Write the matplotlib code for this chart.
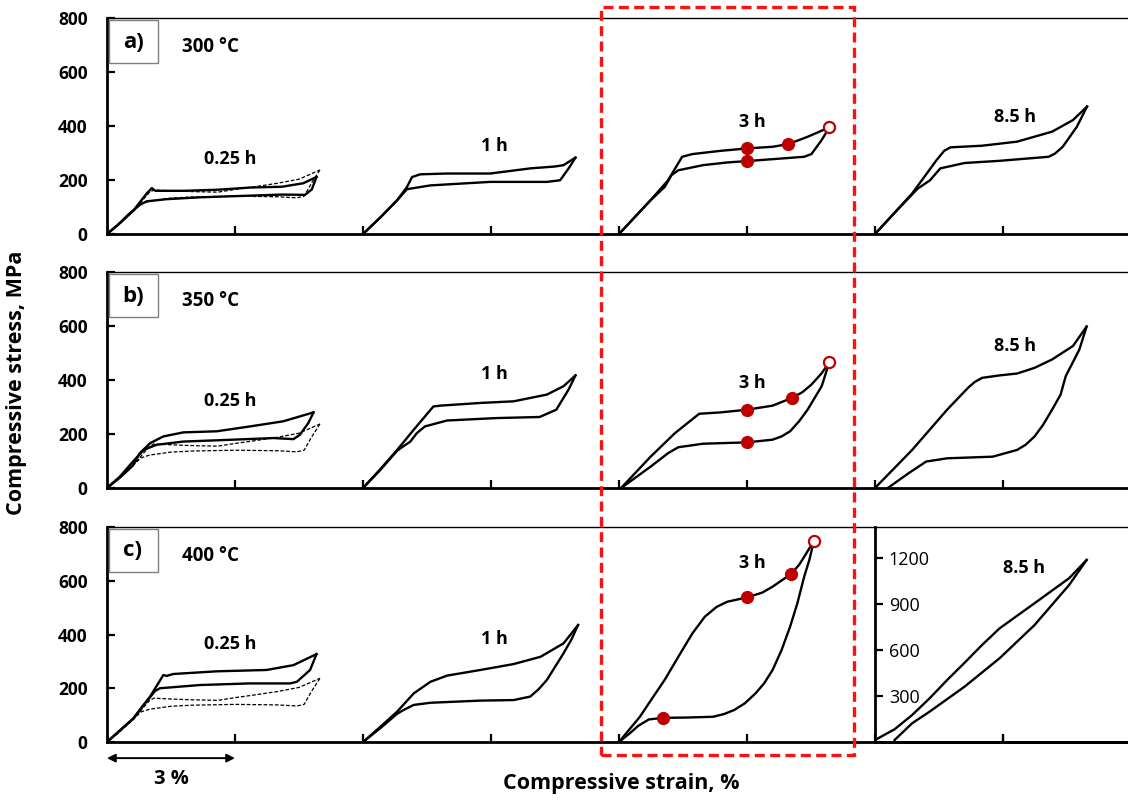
import matplotlib
matplotlib.use('Agg')
import matplotlib.pyplot as plt
from matplotlib.patches import Rectangle

plt.rcParams['font.family'] = ['Open Sans', 'DejaVu Sans']
plt.rcParams['font.weight'] = 'bold'

# ageing times and the strain (%) where each loop starts on the shared axis
durations = ['0.25 h', '1 h', '3 h', '8.5 h']
origins = [0, 6, 12, 18]
temps = ['300 °C', '350 °C', '400 °C']
panels = ['a)', 'b)', 'c)']
yticks = [0, 200, 400, 600, 800]
inset_yticks = [300, 600, 900, 1200]

# dashed reference loop (0.25 h) repeated in every row, (strain %, stress MPa)
ref_load = [(0, 0), (0.3, 38), (0.62, 84), (0.85, 128), (1.0, 155), (1.1, 163), (1.5, 160),
            (2.0, 157), (2.6, 155), (3.0, 165), (3.5, 176), (4.0, 188), (4.5, 203), (4.99, 237)]
ref_unload = [(4.99, 237), (4.8, 190), (4.62, 140), (4.45, 134), (4.0, 138), (3.0, 140), (2.0, 137),
              (1.5, 133), (1.0, 122), (0.8, 112), (0.55, 76), (0.28, 36), (0, 0)]

# a) 300 °C
a_025_load = [(0, 0), (0.3, 40), (0.62, 87), (0.93, 150), (1.05, 170), (1.13, 160), (1.8, 160),
              (2.6, 164), (3.35, 172), (4.1, 175), (4.6, 188), (4.91, 211)]
a_025_unload = [(4.91, 211), (4.8, 165), (4.64, 145), (4.1, 146), (3.35, 142), (2.2, 136), (1.4, 129),
                (0.93, 121), (0.77, 108), (0.5, 72), (0.25, 33), (0, 0)]
a_1_load = [(0, 0), (0.41, 62), (0.8, 125), (1.03, 174), (1.15, 211), (1.34, 221), (1.97, 224),
            (2.98, 224), (3.92, 243), (4.5, 250), (4.7, 255), (4.98, 283)]
a_1_unload = [(4.98, 283), (4.82, 243), (4.62, 199), (4.31, 193), (2.98, 193), (1.58, 180),
              (1.03, 166), (0.8, 125), (0.41, 62), (0, 0)]
a_3_load = [(0, 0), (0.74, 125), (1.15, 199), (1.48, 286), (1.72, 296), (2.38, 308), (3.0, 317),
            (3.6, 323), (3.97, 333), (4.42, 360), (4.93, 395)]
a_3_unload = [(4.93, 395), (4.75, 348), (4.51, 296), (4.34, 286), (3.0, 270), (2.54, 265), (1.97, 255),
              (1.39, 236), (1.23, 218), (1.07, 174), (0.74, 125), (0, 0)]
a_85_load = [(0, 0), (0.87, 150), (1.44, 273), (1.62, 308), (1.77, 321), (2.51, 327), (3.33, 342),
             (4.15, 379), (4.64, 422), (4.97, 472)]
a_85_unload = [(4.97, 472), (4.73, 397), (4.4, 323), (4.22, 298), (4.07, 286), (2.92, 271), (2.1, 263),
               (1.53, 243), (1.29, 199), (1.0, 168), (0.5, 85), (0, 0)]
a_3_dots = [(3.0, 317), (3.97, 333), (3.0, 270)]
a_3_open = (4.93, 395)

# b) 350 °C
b_025_load = [(0, 0), (0.3, 38), (0.6, 82), (0.77, 129), (1.01, 166), (1.32, 191), (1.79, 206),
              (2.57, 210), (3.35, 228), (4.13, 247), (4.84, 280)]
b_025_unload = [(4.84, 280), (4.72, 241), (4.52, 197), (4.37, 181), (3.9, 185), (2.96, 179), (1.79, 172),
                (1.16, 160), (0.86, 141), (0.62, 100), (0.3, 42), (0, 0)]
b_1_load = [(0, 0), (0.39, 67), (0.8, 141), (1.19, 216), (1.65, 302), (1.81, 305), (2.75, 315),
            (3.53, 321), (4.31, 346), (4.7, 377), (4.98, 417)]
b_1_unload = [(4.98, 417), (4.82, 365), (4.53, 290), (4.14, 263), (3.13, 259), (1.97, 250), (1.45, 228),
              (1.26, 203), (1.11, 172), (0.95, 155), (0.8, 138), (0.39, 64), (0, 0)]
b_3_load = [(0.05, 0), (0.74, 116), (1.31, 203), (1.88, 275), (2.38, 280), (3.0, 290), (3.6, 305),
            (4.06, 334), (4.3, 355), (4.51, 383), (4.75, 425), (4.93, 466)]
b_3_unload = [(4.93, 466), (4.75, 377), (4.42, 290), (4.22, 247), (4.01, 210), (3.81, 191), (3.6, 179),
              (3.0, 169), (1.97, 164), (1.39, 151), (1.15, 129), (0.74, 79), (0.05, 0)]
b_85_load = [(0, 0), (0.87, 141), (1.69, 290), (2.18, 371), (2.34, 393), (2.51, 408), (2.92, 417),
             (3.33, 424), (3.74, 445), (4.15, 476), (4.64, 526), (4.96, 598)]
b_85_unload = [(4.96, 598), (4.79, 513), (4.47, 414), (4.35, 346), (4.15, 290), (3.94, 234), (3.74, 191),
               (3.53, 160), (3.33, 141), (2.76, 116), (1.69, 110), (1.2, 98), (0.79, 55), (0.3, 0)]
b_3_dots = [(3.0, 290), (4.06, 334), (3.0, 169)]
b_3_open = (4.93, 466)

# c) 400 °C
c_025_load = [(0, 0), (0.62, 88), (1.01, 169), (1.32, 249), (1.4, 246), (1.55, 253), (2.57, 263),
              (3.74, 268), (4.37, 286), (4.91, 327)]
c_025_unload = [(4.91, 327), (4.76, 268), (4.45, 224), (4.29, 218), (3.35, 218), (2.18, 212),
                (1.24, 200), (1.13, 190), (0.85, 136), (0.62, 88), (0, 0)]
c_1_load = [(0, 0), (0.41, 57), (0.8, 113), (1.19, 181), (1.58, 224), (1.97, 247), (2.75, 268),
            (3.53, 290), (4.16, 317), (4.7, 367), (5.04, 435)]
c_1_unload = [(5.04, 435), (4.88, 380), (4.7, 330), (4.31, 231), (4.12, 197), (3.92, 169), (3.53, 156),
              (2.75, 154), (1.58, 146), (1.19, 138), (0.95, 119), (0.8, 105), (0.41, 52), (0, 0)]
c_3_load = [(0, 0), (0.25, 48), (0.49, 94), (0.78, 163), (1.07, 231), (1.39, 317), (1.72, 404),
            (2.01, 466), (2.29, 503), (2.54, 522), (3.0, 538), (3.36, 556), (3.6, 578), (4.03, 625),
            (4.22, 659), (4.34, 689), (4.57, 749)]
c_3_unload = [(4.57, 749), (4.46, 677), (4.34, 615), (4.18, 516), (4.01, 429), (3.81, 342), (3.6, 268),
              (3.4, 218), (3.2, 181), (2.95, 144), (2.7, 119), (2.46, 104), (2.21, 94), (1.6, 91),
              (1.04, 90), (0.7, 84), (0.45, 60), (0.25, 32), (0, 0)]
c_85_load = [(0, 13), (0.46, 83), (0.87, 176), (1.28, 285), (1.69, 404), (2.1, 517), (2.51, 633),
             (2.92, 741), (3.74, 905), (4.55, 1068), (4.96, 1187)]
c_85_unload = [(4.96, 1187), (4.55, 1024), (3.74, 763), (2.92, 546), (2.1, 361), (1.28, 198),
               (0.87, 122), (0.46, 13)]
c_3_dots = [(3.0, 538), (4.03, 625), (1.04, 90)]
c_3_open = (4.57, 749)

rows = [
    [(a_025_load, a_025_unload), (a_1_load, a_1_unload), (a_3_load, a_3_unload), (a_85_load, a_85_unload)],
    [(b_025_load, b_025_unload), (b_1_load, b_1_unload), (b_3_load, b_3_unload), (b_85_load, b_85_unload)],
    [(c_025_load, c_025_unload), (c_1_load, c_1_unload), (c_3_load, c_3_unload), None],
]
dots = [a_3_dots, b_3_dots, c_3_dots]
opens = [a_3_open, b_3_open, c_3_open]
# where the duration labels sit (strain %, stress MPa), per row
label_xy = [
    [(2.88, 277), (9.08, 327), (15.12, 416), (21.28, 435)],
    [(2.88, 321), (9.08, 424), (15.12, 389), (21.28, 526)],
    [(2.88, 363), (9.08, 382), (15.12, 665), None],
]

W, H = 1128, 802
PX_PER_PCT = 128 / 3.0
XMAX = (W - 107) / PX_PER_PCT


def fx(px):
    return px / W


def fy(py):
    return 1 - py / H


def draw_loop(ax, load, unload, x0, **kw):
    for path in (load, unload):
        ax.plot([x0 + p[0] for p in path], [p[1] for p in path], **kw)


fig = plt.figure(figsize=(W / 100, H / 100), dpi=100)
row_px = [(18, 234), (272, 488), (527, 742)]
red = '#C00000'
axes = []
for r, (top, bot) in enumerate(row_px):
    ax = fig.add_axes([fx(107), fy(bot), 1 - fx(107), (bot - top) / H])
    ax.set_xlim(0, XMAX)
    ax.set_ylim(0, 800)
    ax.spines['right'].set_visible(False)
    ax.spines['left'].set_linewidth(2)
    ax.spines['bottom'].set_linewidth(2)
    ax.spines['top'].set_linewidth(1)
    ax.set_xticks([3, 6, 9, 12, 15, 18, 21])
    ax.set_xticklabels([])
    ax.set_yticks(yticks)
    ax.tick_params(axis='both', direction='in', length=6, width=1.6)
    ax.tick_params(axis='y', labelsize=12.5, pad=14)
    for t in ax.get_yticklabels():
        t.set_fontweight('bold')

    for k in range(4):
        loop = rows[r][k]
        if loop is None:
            continue
        if k == 0:
            draw_loop(ax, ref_load, ref_unload, origins[0], color='black', lw=0.9, ls=(0, (3, 1.5)))
        draw_loop(ax, loop[0], loop[1], origins[k], color='black', lw=1.7)
        ax.text(label_xy[r][k][0], label_xy[r][k][1], durations[k], ha='center', va='center',
                fontsize=13, fontweight='bold')
    ax.plot([origins[2] + p[0] for p in dots[r]], [p[1] for p in dots[r]], 'o', color=red,
            ms=8.5, zorder=5)
    ax.plot(origins[2] + opens[r][0], opens[r][1], 'o', mfc='white', mec=red, mew=1.6,
            ms=8, zorder=5)
    axes.append(ax)

    # panel letter box and temperature
    fig.patches.append(Rectangle((fx(109), fy(top + 45)), 49 / W, 43 / H, transform=fig.transFigure,
                                 fill=False, ec='#7f7f7f', lw=1))
    fig.text(fx(133), fy(top + 24), panels[r], ha='center', va='center', fontsize=16, fontweight='bold')
    fig.text(fx(211), fy(top + 29), temps[r], ha='center', va='center', fontsize=13.5, fontweight='bold')

# c) 8.5 h needs its own stress scale
top, bot = row_px[2]
ins = fig.add_axes([fx(875), fy(bot), 1 - fx(875), (bot - top) / H])
ins.patch.set_alpha(0)
ins.set_xlim(origins[3], XMAX)
ins.set_ylim(0, 1402)
for s in ['top', 'right']:
    ins.spines[s].set_visible(False)
ins.spines['left'].set_linewidth(2)
ins.spines['bottom'].set_linewidth(2)
ins.set_xticks([21])
ins.set_xticklabels([])
ins.set_yticks(inset_yticks)
ins.tick_params(axis='both', direction='in', length=6, width=1.6)
ins.tick_params(axis='y', labelsize=13, pad=-10)
for t in ins.get_yticklabels():
    t.set_horizontalalignment('left')
    t.set_fontweight('normal')
draw_loop(ins, c_85_load, c_85_unload, origins[3], color='black', lw=1.7)
ins.text(21.49, 1133, durations[3], ha='center', va='center', fontsize=13, fontweight='bold')

# 3 % scale arrow under panel c
axc = axes[2]
axc.annotate('', xy=(0, -60), xytext=(3, -60), annotation_clip=False,
             arrowprops=dict(arrowstyle='<|-|>', color='black', lw=1.4, mutation_scale=12,
                             shrinkA=0, shrinkB=0))
axc.text(1.5, -138, '3 %', ha='center', va='center', fontsize=14.5, fontweight='bold', clip_on=False)

# red dashed frame around the 3 h column
fig.patches.append(Rectangle((fx(601), fy(755)), (854 - 601) / W, (755 - 7) / H,
                             transform=fig.transFigure, fill=False, ec='#FF1010', lw=2.4,
                             ls=(0, (3, 1.6)), zorder=10))

fig.text(fx(621), fy(784), 'Compressive strain, %', ha='center', va='center', fontsize=15.5,
         fontweight='bold')
fig.text(fx(17), fy(383), 'Compressive stress, MPa', ha='center', va='center', rotation=90,
         fontsize=15.5, fontweight='bold')

fig.savefig('out.png', dpi=100)
